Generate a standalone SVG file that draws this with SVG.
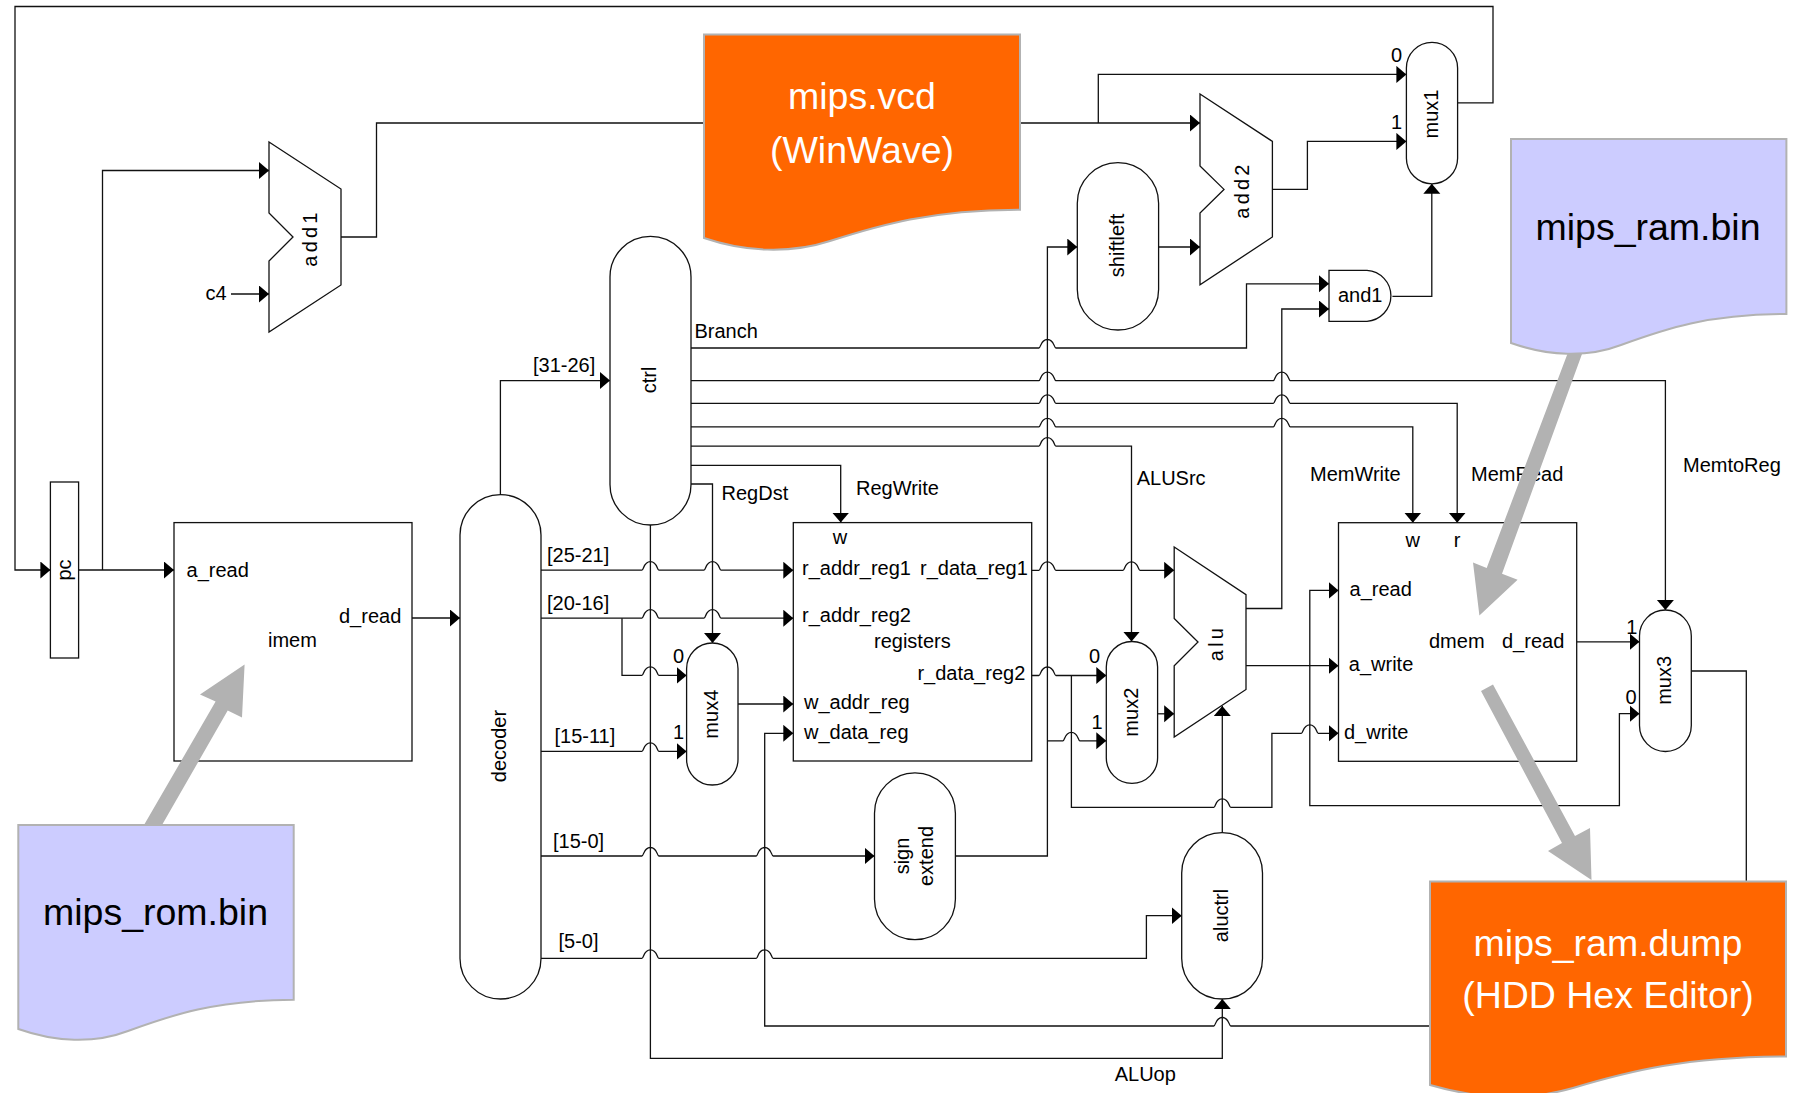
<svg xmlns="http://www.w3.org/2000/svg" width="1794" height="1093" viewBox="0 0 1794 1093">
<style>
text{font-family:"Liberation Sans",Arial,sans-serif;font-size:20px;fill:#000}
.m{text-anchor:middle}
.big{font-size:37.5px}
.w{fill:#fff}
.n{fill:#fff;stroke:#111;stroke-width:1.3}
.c{fill:none;stroke:#111;stroke-width:1.3}
.a{marker-end:url(#ah)}
.gr{fill:#b2b2b2;stroke:none}
.d1{fill:#ff6600;stroke:#b2b2b2;stroke-width:2}
.d2{fill:#ccccff;stroke:#b2b2b2;stroke-width:2}
</style>
<defs>
<marker id="ah" markerUnits="userSpaceOnUse" markerWidth="11" markerHeight="18" refX="10" refY="8.5" orient="auto"><path d="M0,0 L10,8.5 L0,17 Z" fill="#000"/></marker>
</defs>
<rect width="1794" height="1093" fill="#fff"/>
<g id="connectors">
<path class="c a" d="M1457.6,102.8 H1493 V6.5 H15 V570 H50.4"/>
<path class="c a" d="M78.6,570 H174"/>
<path class="c a" d="M102.5,570 V170.5 H269"/>
<path class="c a" d="M231,294 H269"/>
<path class="c a" d="M341,237 H376.5 V123 H1200"/>
<path class="c a" d="M1098.3,123 V74.4 H1406.4"/>
<path class="c a" d="M1272.4,189.4 H1307.4 V141.4 H1406.4"/>
<path class="c a" d="M1158.6,247 H1200"/>
<path class="c a" d="M955.4,856 H1047.4 V247 H1077.3"/>
<path class="c a" d="M1392.4,296.4 H1431.8 V183.8"/>
<path class="c a" d="M1246,608.5 H1281.8 V309 H1329"/>
<path class="c a" d="M691,348 H1038.9 c2,0 1.5,-8.5 8.5,-8.5 s6.5,8.5 8.5,8.5 H1246.5 V283.8 H1329"/>
<path class="c a" d="M691,380.6 H1038.9 c2,0 1.5,-8.5 8.5,-8.5 s6.5,8.5 8.5,8.5 H1273.3 c2,0 1.5,-8.5 8.5,-8.5 s6.5,8.5 8.5,8.5 H1665.4 V610"/>
<path class="c a" d="M691,403.4 H1038.9 c2,0 1.5,-8.5 8.5,-8.5 s6.5,8.5 8.5,8.5 H1273.3 c2,0 1.5,-8.5 8.5,-8.5 s6.5,8.5 8.5,8.5 H1457.2 V522.7"/>
<path class="c a" d="M691,426.9 H1038.9 c2,0 1.5,-8.5 8.5,-8.5 s6.5,8.5 8.5,8.5 H1273.3 c2,0 1.5,-8.5 8.5,-8.5 s6.5,8.5 8.5,8.5 H1412.8 V522.7"/>
<path class="c a" d="M691,446.2 H1038.9 c2,0 1.5,-8.5 8.5,-8.5 s6.5,8.5 8.5,8.5 H1131.5 V641.5"/>
<path class="c a" d="M691,465.4 H840.7 V522.6"/>
<path class="c a" d="M691,484 H712.5 V643"/>
<path class="c a" d="M500.4,494.6 V380.6 H610"/>
<path class="c a" d="M412,618 H460"/>
<path class="c a" d="M541,570.2 H641.9 c2,0 1.5,-8.5 8.5,-8.5 s6.5,8.5 8.5,8.5 H704 c2,0 1.5,-8.5 8.5,-8.5 s6.5,8.5 8.5,8.5 H793.3"/>
<path class="c a" d="M541,618.2 H641.9 c2,0 1.5,-8.5 8.5,-8.5 s6.5,8.5 8.5,8.5 H704 c2,0 1.5,-8.5 8.5,-8.5 s6.5,8.5 8.5,8.5 H793.3"/>
<path class="c a" d="M622,618.2 V675.4 H641.9 c2,0 1.5,-8.5 8.5,-8.5 s6.5,8.5 8.5,8.5 H686.6"/>
<path class="c a" d="M541,751.4 H641.9 c2,0 1.5,-8.5 8.5,-8.5 s6.5,8.5 8.5,8.5 H686.6"/>
<path class="c a" d="M541,856 H641.9 c2,0 1.5,-8.5 8.5,-8.5 s6.5,8.5 8.5,8.5 H756.2 c2,0 1.5,-8.5 8.5,-8.5 s6.5,8.5 8.5,8.5 H874.5"/>
<path class="c a" d="M541,958.4 H641.9 c2,0 1.5,-8.5 8.5,-8.5 s6.5,8.5 8.5,8.5 H756.2 c2,0 1.5,-8.5 8.5,-8.5 s6.5,8.5 8.5,8.5 H1146.4 V915.7 H1181.7"/>
<path class="c a" d="M650.4,525 V1058.4 H1222.3 V999"/>
<path class="c a" d="M738,704 H793.3"/>
<path class="c a" d="M1691.3,671 H1746.3 V1026 H1230.8 c-2,0 -1.5,-8.5 -8.5,-8.5 s-6.5,8.5 -8.5,8.5 H764.7 V733.3 H793.3"/>
<path class="c a" d="M1031.7,570.3 H1038.9 c2,0 1.5,-8.5 8.5,-8.5 s6.5,8.5 8.5,8.5 H1123 c2,0 1.5,-8.5 8.5,-8.5 s6.5,8.5 8.5,8.5 H1174.2"/>
<path class="c a" d="M1031.7,675.5 H1038.9 c2,0 1.5,-8.5 8.5,-8.5 s6.5,8.5 8.5,8.5 H1106.3"/>
<path class="c a" d="M1047.4,740.8 H1062.9 c2,0 1.5,-8.5 8.5,-8.5 s6.5,8.5 8.5,8.5 H1106.3"/>
<path class="c a" d="M1071.4,675.5 V807.4 H1213.8 c2,0 1.5,-8.5 8.5,-8.5 s6.5,8.5 8.5,8.5 H1271.9 V733.3 H1301.3 c2,0 1.5,-8.5 8.5,-8.5 s6.5,8.5 8.5,8.5 H1338.5"/>
<path class="c a" d="M1157.6,713.8 H1174.2"/>
<path class="c a" d="M1222.3,832.6 V706"/>
<path class="c a" d="M1246,665.7 H1338.5"/>
<path class="c a" d="M1309.8,665.7 V590.4 H1338.5"/>
<path class="c a" d="M1309.8,665.7 V805.6 H1619.4 V713.7 H1639.5"/>
<path class="c a" d="M1576.7,641.8 H1639.5"/>
</g>
<g id="add1"><path class="n" d="M269,142 L341,189 V285 L269,332 V261 L293,237 L269,213 Z"/><text class="m" letter-spacing="3.2" transform="translate(310,238) rotate(-90)" y="6.5">add1</text></g>
<g id="add2"><path class="n" d="M1200,94 L1272.4,141.4 V237 L1200,284.8 V213 L1224,189.4 L1200,166 Z"/><text class="m" letter-spacing="3.2" transform="translate(1242.4,190) rotate(-90)" y="6.5">add2</text></g>
<g id="alu"><path class="n" d="M1174.2,547 L1246,594.6 V689.5 L1174.2,737 V665.7 L1198,642 L1174.2,618.4 Z"/><text class="m" letter-spacing="3.2" transform="translate(1216,643) rotate(-90)" y="6.5">alu</text></g>
<g id="pc"><rect class="n" x="50.4" y="482" width="28.2" height="176"/><text class="m" transform="translate(64,570) rotate(-90)" y="6.5">pc</text></g>
<g id="imem"><rect class="n" x="174" y="522.6" width="238" height="238.4"/><text x="186.6" y="577">a_read</text><text x="339" y="623">d_read</text><text x="268" y="647">imem</text></g>
<g id="decoder"><rect class="n" x="460" y="494.6" width="81" height="504.4" rx="40.5"/><text class="m" transform="translate(499.5,746) rotate(-90)" y="6.5">decoder</text></g>
<g id="ctrl"><rect class="n" x="610" y="236.4" width="81" height="288.6" rx="40.5"/><text class="m" transform="translate(649,380) rotate(-90)" y="6.5">ctrl</text></g>
<g id="shiftleft"><rect class="n" x="1077.3" y="162.7" width="81.3" height="167.3" rx="40.6"/><text class="m" transform="translate(1117,245.5) rotate(-90)" y="6.5">shiftleft</text></g>
<g id="and1"><path class="n" d="M1329,270.4 H1367 A25.5,25.5 0 0 1 1367,321.3 H1329 Z"/><text x="1338" y="302">and1</text></g>
<g id="mux1"><rect class="n" x="1406.4" y="42.4" width="51.2" height="141.4" rx="25.6"/><text class="m" transform="translate(1431,114) rotate(-90)" y="6.5">mux1</text><text class="m" x="1396.5" y="62">0</text><text class="m" x="1396.5" y="129">1</text></g>
<g id="mux2"><rect class="n" x="1106.3" y="641.5" width="51.3" height="141.9" rx="25.6"/><text class="m" transform="translate(1131,712.2) rotate(-90)" y="6.5">mux2</text><text class="m" x="1094.6" y="662.5">0</text><text class="m" x="1097" y="729">1</text></g>
<g id="mux3"><rect class="n" x="1639.5" y="610" width="51.8" height="141.5" rx="25.9"/><text class="m" transform="translate(1664.4,680.4) rotate(-90)" y="6.5">mux3</text><text class="m" x="1631.7" y="634">1</text><text class="m" x="1631" y="704">0</text></g>
<g id="mux4"><rect class="n" x="686.6" y="643" width="51.4" height="142" rx="25.7"/><text class="m" transform="translate(711,714.2) rotate(-90)" y="6.5">mux4</text><text class="m" x="678.6" y="662.5">0</text><text class="m" x="678.6" y="739">1</text></g>
<g id="registers"><rect class="n" x="793.3" y="522.6" width="238.4" height="238.4"/><text class="m" x="840" y="544">w</text><text x="802" y="574.5">r_addr_reg1</text><text x="920" y="574.5">r_data_reg1</text><text x="802" y="621.5">r_addr_reg2</text><text x="874" y="647.5">registers</text><text x="917.4" y="679.5">r_data_reg2</text><text x="804" y="709">w_addr_reg</text><text x="804" y="739">w_data_reg</text></g>
<g id="sign-extend"><rect class="n" x="874.5" y="772.8" width="80.9" height="166.9" rx="40.4"/><text class="m" transform="translate(902,856) rotate(-90)" y="6.5">sign</text><text class="m" transform="translate(926,856) rotate(-90)" y="6.5">extend</text></g>
<g id="aluctrl"><rect class="n" x="1181.7" y="832.6" width="80.8" height="166.4" rx="40.4"/><text class="m" transform="translate(1221,915.5) rotate(-90)" y="6.5">aluctrl</text></g>
<g id="dmem"><rect class="n" x="1338.5" y="522.7" width="238.2" height="238.6"/><text class="m" x="1412.8" y="547">w</text><text class="m" x="1457.2" y="546.5">r</text><text x="1349.6" y="595.5">a_read</text><text x="1348.8" y="671">a_write</text><text x="1344" y="738.5">d_write</text><text x="1429" y="647.5">dmem</text><text x="1502" y="648">d_read</text></g>
<g id="labels">
<text x="533" y="371.5">[31-26]</text>
<text x="547" y="561.5">[25-21]</text>
<text x="547" y="609.5">[20-16]</text>
<text x="554.5" y="742.5">[15-11]</text>
<text x="553" y="847.5">[15-0]</text>
<text x="558.5" y="947.5">[5-0]</text>
<text x="205.5" y="300">c4</text>
<text x="694.5" y="338">Branch</text>
<text x="721.5" y="500">RegDst</text>
<text x="856" y="494.5">RegWrite</text>
<text x="1136.7" y="484.5">ALUSrc</text>
<text x="1310" y="480.5">MemWrite</text>
<text x="1471" y="480.5">MemRead</text>
<text x="1683" y="472">MemtoReg</text>
<text x="1114.7" y="1081">ALUop</text>
</g>
<g id="mips-vcd"><path class="d1" d="M704,34.4 H1020 V209.7 C930,210 880,225 830,241 C790,254 745,252 704,238 Z"/><text class="big w m" x="862" y="109">mips.vcd</text><text class="big w m" x="862" y="163">(WinWave)</text></g>
<g id="mips-rom-bin"><path class="d2" d="M18.3,825 H293.7 V999.7 C215,1000 172,1015 128,1031 C94,1044 55,1042 18.3,1029 Z"/><text class="big m" x="155.5" y="925">mips_rom.bin</text></g>
<g id="mips-ram-bin"><path class="d2" d="M1511,139 H1786.4 V314 C1708,314 1665,329 1621,345 C1587,358 1548,356 1511,343 Z"/><text class="big m" x="1648" y="239.5">mips_ram.bin</text></g>
<g id="mips-ram-dump"><path class="d1" d="M1430,881.6 H1786 V1056.5 C1685,1057 1630,1071 1573,1088 C1528,1101 1478,1099 1430,1085 Z"/><text class="big w m" x="1608" y="955.5">mips_ram.dump</text><text class="big w m" x="1608" y="1008">(HDD Hex Editor)</text></g>
<g id="flow-arrows">
<path class="gr" d="M144,825 L215.6,701.6 L200,694.5 L244.6,664.6 L242,717.4 L227.7,710.6 L162,825 Z"/>
<path class="gr" d="M1567.4,354 L1486.7,568 L1473,562.4 L1479.4,615.4 L1517.6,579.8 L1502,573.7 L1582,354 Z"/>
<path class="gr" d="M1481,691 L1493,684.6 L1575,836 L1590,828 L1591.5,880 L1548,851 L1562,843 Z"/>
</g>
</svg>
